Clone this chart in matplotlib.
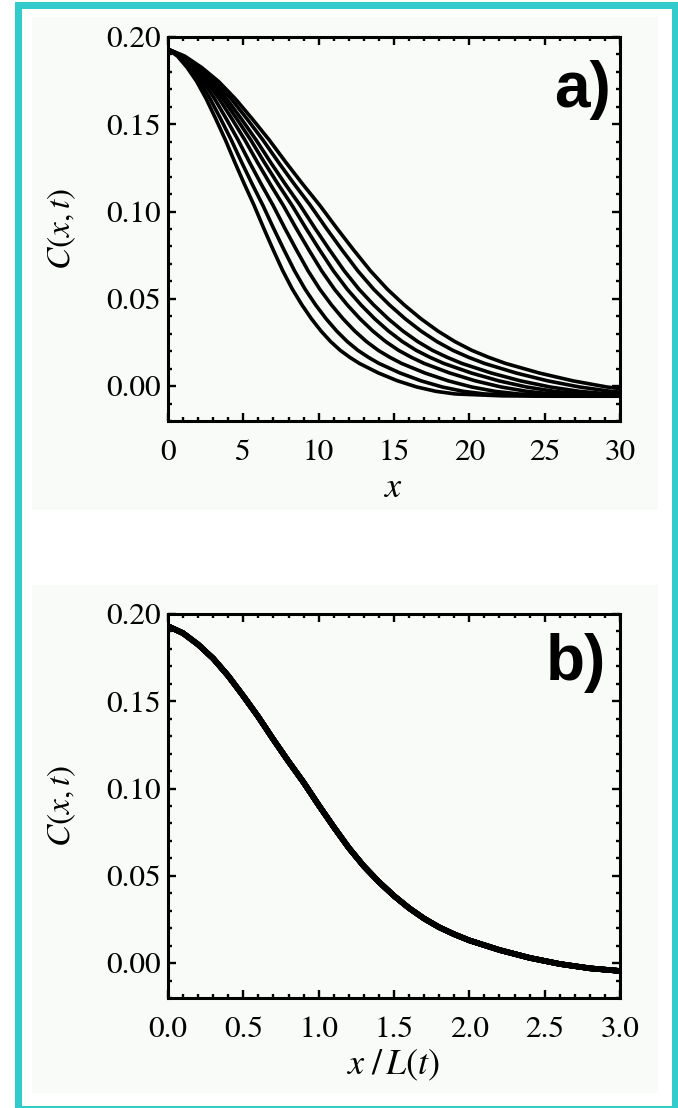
import numpy as np
import matplotlib
matplotlib.use("Agg")
import matplotlib.pyplot as plt
from matplotlib.patches import Rectangle
from matplotlib.ticker import MultipleLocator, FormatStrFormatter

# ---------------- data ----------------
# scaled distance u = x / L(t) and the measured correlation C at that u
u_scaled = [0.0, 0.1, 0.2, 0.3, 0.4, 0.5, 0.6, 0.7, 0.8, 0.9, 1.0, 1.1, 1.2,
            1.3, 1.4, 1.5, 1.6, 1.7, 1.8, 1.9, 2.0, 2.2, 2.4, 2.6, 2.8, 3.0,
            3.5, 4.0, 5.0]
c_values = [0.193, 0.1890, 0.1825, 0.1745, 0.1645, 0.1530, 0.1410, 0.1280,
            0.1155, 0.1035, 0.0905, 0.0780, 0.0660, 0.0555, 0.0465, 0.0385,
            0.0315, 0.0255, 0.0205, 0.0165, 0.0130, 0.0075, 0.0030, -0.0005,
            -0.0030, -0.0045, -0.0056, -0.0058, -0.0058]
# characteristic length L(t) of each of the eight curves (increasing time)
L_values = [6.35, 7.0, 7.75, 8.5, 9.15, 9.75, 10.5, 11.2]

xticks_a = [0, 5, 10, 15, 20, 25, 30]
xticks_b = [0.0, 0.5, 1.0, 1.5, 2.0, 2.5, 3.0]
yticks = [0.00, 0.05, 0.10, 0.15, 0.20]

# ---------------- style ----------------
plt.rcParams['mathtext.fontset'] = 'stix'
plt.rcParams['font.family'] = ['STIXGeneral', 'DejaVu Serif']

W, H = 678, 1108
fig = plt.figure(figsize=(W / 100, H / 100), dpi=100)
fig.patch.set_facecolor('white')


def px_rect(x0, y0, x1, y1, color, z=0):
    fig.add_artist(Rectangle((x0 / W, 1 - y1 / H), (x1 - x0) / W, (y1 - y0) / H,
                             transform=fig.transFigure, facecolor=color,
                             edgecolor='none', zorder=z))


# faint off-white image panels
px_rect(32, 17, 658, 510, '#F8FBF8', z=-5)
px_rect(32, 585, 658, 1093, '#F8FBF8', z=-5)
# cyan frame
cyan = '#33CCCC'
px_rect(15, 1.7, 678, 9, cyan, z=10)
px_rect(15, 1.7, 22, 1108, cyan, z=10)
px_rect(671.5, 1.7, 678, 1108, cyan, z=10)
px_rect(15, 1105.5, 678, 1108, cyan, z=10)

axw = (620 - 168) / W
axh = (421 - 37) / H
ax_a = fig.add_axes([168 / W, 1 - 421 / H, axw, axh])
ax_b = fig.add_axes([168 / W, 1 - 998 / H, axw, axh])

u = np.array(u_scaled)
c = np.array(c_values)

for L in L_values:
    ax_a.plot(u * L, c, color='black', lw=2.6, solid_capstyle='butt')
    ax_b.plot(u, c, color='black', lw=4.0, solid_capstyle='butt')


def style(ax, xticks, xmin, xmax, xminor, fmt):
    ax.set_facecolor('none')
    ax.set_xlim(xmin, xmax)
    ax.set_ylim(-0.02, 0.20)
    ax.set_xticks(xticks)
    ax.set_yticks(yticks)
    ax.xaxis.set_minor_locator(MultipleLocator(xminor))
    ax.yaxis.set_minor_locator(MultipleLocator(0.01))
    ax.xaxis.set_major_formatter(FormatStrFormatter(fmt))
    ax.yaxis.set_major_formatter(FormatStrFormatter('%.2f'))
    for s in ax.spines.values():
        s.set_linewidth(2.2)
    ax.tick_params(which='both', direction='in', top=True, right=True,
                   width=1.7, labelsize=22.5)
    ax.tick_params(which='major', length=6)
    ax.tick_params(which='minor', length=3)
    ax.tick_params(axis='x', pad=13)
    ax.tick_params(axis='y', pad=5)


style(ax_a, xticks_a, 0, 30, 1, '%d')
style(ax_b, xticks_b, 0, 3.0, 0.1, '%.1f')

for ax, xl, tag, tx, ty in [(ax_a, r'$x$', 'a)', 0.980, 0.862),
                            (ax_b, r'$x\;/\,L(t)$', 'b)', 0.970, 0.872)]:
    ax.set_ylabel(r'$C(x,t)$', fontsize=24)
    ax.yaxis.set_label_coords(-0.236, 0.5)
    ax.set_xlabel(xl, fontsize=26)
    ax.xaxis.set_label_coords(0.5, -0.175)
    ax.xaxis.label.set_va('center')
    ax.yaxis.label.set_va('center')
    ax.text(tx, ty, tag, transform=ax.transAxes, ha='right', va='center',
            fontsize=46, fontweight='bold', family='Liberation Sans')

fig.savefig('out.png', dpi=100, facecolor='white')
